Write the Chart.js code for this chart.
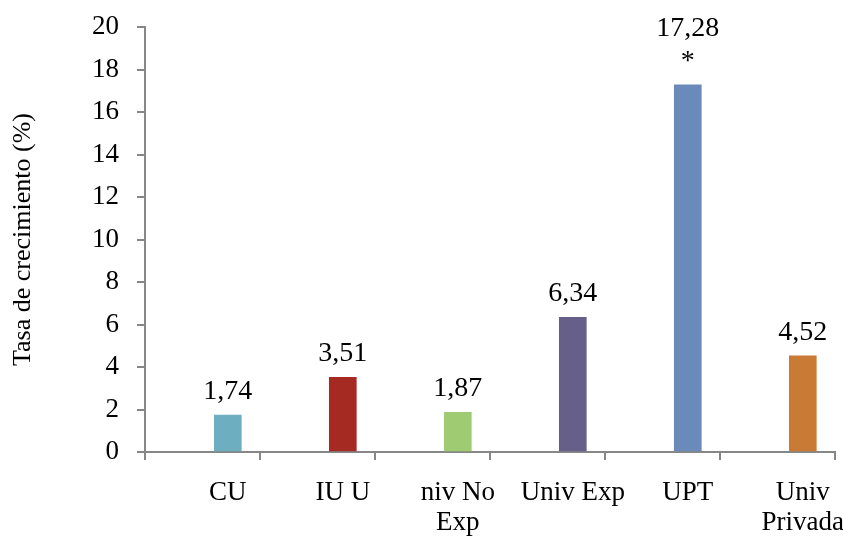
<!DOCTYPE html>
<html>
<head>
<meta charset="utf-8">
<script src="https://cdn.jsdelivr.net/npm/chart.js@4/dist/chart.umd.min.js"></script>
<style>
  html, body { margin: 0; padding: 0; background: #fff; }
  #wrap { width: 843px; height: 537px; }
</style>
</head>
<body>
<div id="wrap"><canvas id="growthChart"></canvas></div>
<script>
// Growth rate by institution type
const categories = ['CU', 'IU U', ['niv No', 'Exp'], 'Univ Exp', 'UPT', ['Univ', 'Privada']];
const growth = [1.74, 3.51, 1.87, 6.34, 17.28, 4.52];
const notes = ['', '', '', '', '*', ''];
const barColors = ['#6DAEC0', '#A52A22', '#9FCC72', '#665F8A', '#6A8BBA', '#C97B35'];
const yTicks = [0, 2, 4, 6, 8, 10, 12, 14, 16, 18, 20];

const serif = "'Liberation Serif', 'Times New Roman', serif";
const axisGray = '#878787';

// bars sit a bit right of the middle of each tick interval
const shift = 0.72;
const xMin = -shift, xMax = categories.length - shift;

const fmt = v => v.toFixed(2).replace('.', ',');

// value labels above each bar, with an optional note line under the number
const valueLabels = {
  id: 'valueLabels',
  afterDatasetsDraw(chart) {
    const ctx = chart.ctx;
    const meta = chart.getDatasetMeta(0);
    ctx.save();
    ctx.font = '28px ' + serif;
    ctx.fillStyle = '#000';
    ctx.textAlign = 'center';
    ctx.textBaseline = 'alphabetic';
    meta.data.forEach((bar, i) => {
      const lines = [fmt(growth[i])];
      if (notes[i]) lines.push(notes[i]);
      let y = bar.y - 16;
      for (let k = lines.length - 1; k >= 0; k--) {
        ctx.fillText(lines[k], bar.x, y);
        y -= 33;
      }
    });
    ctx.restore();
  }
};

new Chart(document.getElementById('growthChart'), {
  type: 'bar',
  data: {
    datasets: [{
      label: 'Tasa de crecimiento (%)',
      data: growth.map((v, i) => ({ x: i, y: v })),
      backgroundColor: barColors,
      borderWidth: 0,
      barThickness: 27
    }]
  },
  options: {
    responsive: true,
    maintainAspectRatio: false,
    animation: false,
    layout: { padding: { top: 27, right: 8, bottom: 0, left: 0 } },
    plugins: {
      legend: { display: false },
      tooltip: { enabled: false }
    },
    scales: {
      x: {
        type: 'linear',
        position: 'bottom',
        weight: 0,
        offset: false,
        min: xMin,
        max: xMax,
        afterBuildTicks: s => { s.ticks = categories.concat([null]).map((_, k) => ({ value: xMin + k })); },
        ticks: { display: false },
        grid: { offset: false, drawOnChartArea: false, drawTicks: true, tickLength: 8, color: axisGray, lineWidth: 2 },
        border: { display: true, color: axisGray, width: 2 }
      },
      xl: {
        type: 'linear',
        position: 'bottom',
        weight: 1,
        offset: false,
        min: xMin,
        max: xMax,
        afterBuildTicks: s => { s.ticks = categories.map((_, k) => ({ value: k })); },
        afterFit: s => { s.height = 77; s.paddingLeft = 0; s.paddingRight = 0; },
        ticks: {
          autoSkip: false,
          maxRotation: 0,
          padding: 18,
          color: '#000',
          font: { family: serif, size: 27, lineHeight: 1.1 },
          callback: v => categories[v]
        },
        grid: { display: false, drawTicks: false },
        border: { display: false }
      },
      y: {
        min: 0,
        max: 20,
        afterBuildTicks: s => { s.ticks = yTicks.map(v => ({ value: v })); },
        afterFit: s => { s.width = 145; s.paddingTop = 0; s.paddingBottom = 0; },
        ticks: {
          padding: 18,
          color: '#000',
          font: { family: serif, size: 27 }
        },
        grid: { drawOnChartArea: false, drawTicks: true, tickLength: 8, color: axisGray, lineWidth: 2 },
        border: { display: true, color: axisGray, width: 2 },
        title: {
          display: true,
          text: 'Tasa de crecimiento (%)',
          color: '#000',
          font: { family: serif, size: 26 },
          padding: { top: 8, bottom: 0 }
        }
      }
    }
  },
  plugins: [valueLabels]
});
</script>
</body>
</html>
